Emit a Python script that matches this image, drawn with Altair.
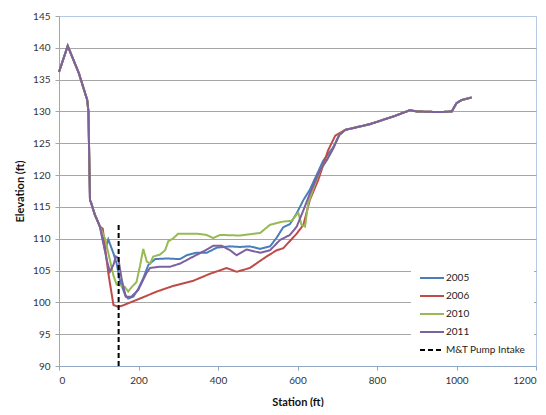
import altair as alt
import pandas as pd

# Shared upper part of the profile (all surveys)
head_x = [0, 22, 50, 71, 74, 78, 80, 90, 103]
head_y = [136.2, 140.3, 136.0, 131.8, 130.0, 116.0, 115.8, 113.8, 111.9]

# Shared upland tail (all surveys coincide)
tail_x = [720, 782, 845, 883, 900, 958, 988, 1000, 1013, 1038]
tail_y = [127.1, 128.0, 129.3, 130.2, 130.0, 129.9, 130.0, 131.3, 131.8, 132.2]

s2005_x = [116, 124, 137, 145, 153, 166, 174, 187, 200, 212, 225, 242, 271, 304, 321, 346, 372, 397,
           430, 455, 480, 506, 531, 548, 564, 581, 598, 615, 631, 648, 665, 690, 705]
s2005_y = [108.2, 109.9, 107.7, 106.1, 103.5, 101.2, 100.6, 100.9, 102.2, 103.8, 105.9, 106.8, 106.9,
           106.8, 107.4, 107.8, 107.8, 108.6, 108.8, 108.7, 108.8, 108.4, 108.8, 110.2, 111.8, 112.3,
           114.0, 116.1, 117.7, 120.0, 122.3, 124.4, 126.3]

s2006_x = [110, 124, 137, 149, 160, 204, 246, 288, 338, 380, 422, 447, 480, 522, 548, 564, 598, 615,
           631, 652, 677, 695]
s2006_y = [111.6, 104.6, 99.6, 99.3, 99.5, 100.6, 101.7, 102.6, 103.4, 104.5, 105.4, 104.8, 105.4,
           107.2, 108.2, 108.5, 110.8, 112.2, 116.1, 119.2, 123.9, 126.2]

s2010_x = [116, 125, 137, 145, 158, 166, 174, 183, 195, 204, 212, 221, 229, 237, 254, 267, 275, 288,
           300, 321, 346, 371, 388, 405, 455, 506, 531, 564, 585, 602, 610, 619, 627, 640, 657, 675,
           690, 705]
s2010_y = [110.0, 107.5, 104.2, 102.8, 102.6, 102.4, 101.7, 102.4, 103.2, 105.8, 108.4, 106.4, 106.1,
           107.2, 107.5, 108.2, 109.6, 110.1, 110.8, 110.8, 110.8, 110.6, 110.1, 110.6, 110.5, 110.9,
           112.2, 112.7, 112.8, 114.1, 112.2, 111.9, 115.6, 117.9, 120.8, 122.5, 124.2, 126.3]

s2011_x = [120, 128, 137, 143, 149, 158, 168, 182, 199, 220, 229, 254, 279, 305, 338, 363, 388, 409,
           430, 447, 472, 506, 531, 556, 581, 598, 615, 631, 657, 675, 690, 705]
s2011_y = [106.7, 104.8, 105.9, 107.2, 107.0, 103.5, 100.9, 100.9, 101.9, 104.6, 105.4, 105.6, 105.6,
           106.1, 107.2, 108.0, 108.9, 108.9, 108.2, 107.4, 108.3, 107.8, 108.2, 109.8, 110.6, 111.9,
           114.5, 117.1, 120.8, 122.5, 124.2, 126.3]

pump_x = [150, 150]
pump_y = [90, 112.5]

series_names = ["2005", "2006", "2010", "2011", "M&T Pump Intake"]
series_colors = ["#4A7EBB", "#BE4B48", "#98B954", "#7D60A0", "#000000"]
series_dash = [[1, 0], [1, 0], [1, 0], [1, 0], [5, 3]]

rows = []
for name, xs, ys in [("2005", s2005_x, s2005_y), ("2006", s2006_x, s2006_y),
                     ("2010", s2010_x, s2010_y), ("2011", s2011_x, s2011_y)]:
    full_x = head_x + xs + tail_x
    full_y = head_y + ys + tail_y
    for i, (a, b) in enumerate(zip(full_x, full_y)):
        rows.append({"series": name, "station": a, "elev": b, "idx": i})
for i, (a, b) in enumerate(zip(pump_x, pump_y)):
    rows.append({"series": "M&T Pump Intake", "station": a, "elev": b, "idx": i})
df = pd.DataFrame(rows)

FONT = "Lato"

legend_common = dict(title=None, orient="none", legendX=352, legendY=248)

chart = alt.Chart(df).mark_line(strokeWidth=2).encode(
    x=alt.X("station:Q", title="Station (ft)",
            scale=alt.Scale(domain=[0, 1200], nice=False),
            axis=alt.Axis(values=[0, 200, 400, 600, 800, 1000, 1200], grid=False, format="d",
                          tickSize=4, tickColor="#8FA8C8", domainColor="#8FA8C8",
                          labelPadding=5, titlePadding=11)),
    y=alt.Y("elev:Q", title="Elevation (ft)",
            scale=alt.Scale(domain=[90, 145], nice=False, zero=False),
            axis=alt.Axis(values=list(range(90, 146, 5)), grid=True, format="d",
                          gridColor={"condition": {"test": "datum.value === 145", "value": "#B7C9E2"},
                                     "value": "#A6A6A6"},
                          tickSize=4, tickColor="#A6A6A6", domainColor="#A6A6A6",
                          labelPadding=5, titlePadding=7)),
    color=alt.Color("series:N", scale=alt.Scale(domain=series_names, range=series_colors),
                    legend=alt.Legend(fillColor="white", padding=8, symbolType="stroke",
                                      symbolSize=576, symbolStrokeWidth=2, rowPadding=6,
                                      clipHeight=12,
                                      labelFontSize=10, labelOffset=1, labelColor="#222222",
                                      labelFont=FONT, **legend_common)),
    strokeDash=alt.StrokeDash("series:N", scale=alt.Scale(domain=series_names, range=series_dash),
                              legend=alt.Legend(**legend_common)),
    order=alt.Order("idx:Q"),
).properties(
    width=477, height=350,
    padding={"left": 51, "top": 8, "right": 2, "bottom": 41},
    autosize=alt.AutoSizeParams(type="none"),
).configure_view(
    stroke="#B7C9E2", strokeWidth=1
).configure_axis(
    labelFont=FONT, titleFont=FONT, labelFontSize=10, titleFontSize=11,
    titleFontWeight="bold", labelColor="#333333", titleColor="#111111"
)

chart.save("out.html", embed_options={"renderer": "svg", "actions": False})
